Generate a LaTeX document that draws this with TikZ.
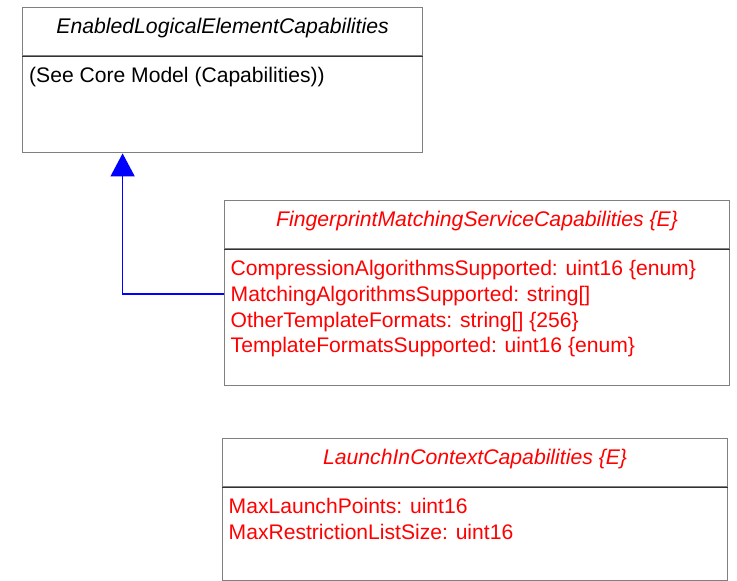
\documentclass[tikz,border=0pt]{standalone}
\usepackage{fontspec}
\setmainfont{Liberation Sans}
\usepackage{tikz}
\usetikzlibrary{arrows.meta,positioning}
\definecolor{BoxBorder}{RGB}{128,128,128}
\definecolor{BoxSep}{RGB}{50,50,50}
\definecolor{ClassRed}{RGB}{255,0,0}
\definecolor{InheritBlue}{RGB}{0,0,255}

\begin{document}
\begin{tikzpicture}[x=1pt, y=-1pt,
    head/.style={draw=BoxBorder, line width=1.2pt, minimum height=48pt, inner sep=0pt,
                 anchor=north west},
    body/.style={draw=BoxBorder, line width=1.2pt, inner sep=0pt},
    sep/.style={draw=BoxSep, line width=1.2pt},
    title/.style={anchor=base, inner sep=0pt, font=\fontsize{21.2}{25.6}\selectfont\itshape},
    attrs/.style={anchor=north west, inner sep=0pt, align=left,
                  font=\fontsize{21.1}{25.6}\selectfont},
    inherit/.style={-{Triangle[length=23pt, width=24pt]}, draw=InheritBlue, line width=1.6pt},
    node distance=0pt
]
    \useasboundingbox (0,0) rectangle (737,581);

    % parent class
    \node[head, minimum width=400pt] (elehead) at (22,7) {};
    \node[body, minimum width=400pt, minimum height=96pt, below=of elehead] (elebody) {};
    \draw[sep] (elehead.south west) -- (elehead.south east);
    \node[title] (eletitle) at ([yshift=-26.2pt]elehead.north) {EnabledLogicalElementCapabilities};
    \node[attrs] (eleattr) at ([xshift=7pt, yshift=-11.2pt]elebody.north west)
        {(See Core Model (Capabilities))};

    % fingerprint matching
    \node[head, minimum width=505pt] (fphead) at (224,200) {};
    \node[body, minimum width=505pt, minimum height=136pt, below=of fphead] (fpbody) {};
    \draw[sep] (fphead.south west) -- (fphead.south east);
    \node[title, text=ClassRed] (fptitle) at ([yshift=-26.2pt]fphead.north)
        {FingerprintMatchingServiceCapabilities \{E\}};
    \node[attrs, text=ClassRed] (fpattr) at ([xshift=6.5pt, yshift=-11.2pt]fpbody.north west)
        {CompressionAlgorithmsSupported: uint16 \{enum\}\\
         MatchingAlgorithmsSupported: string[]\\
         OtherTemplateFormats: string[] \{256\}\\
         TemplateFormatsSupported: uint16 \{enum\}};

    % launch in context
    \node[head, minimum width=505pt] (lchead) at (222,438) {};
    \node[body, minimum width=505pt, minimum height=93pt, below=of lchead] (lcbody) {};
    \draw[sep] (lchead.south west) -- (lchead.south east);
    \node[title, text=ClassRed] (lctitle) at ([yshift=-26.2pt]lchead.north)
        {LaunchInContextCapabilities \{E\}};
    \node[attrs, text=ClassRed] (lcattr) at ([xshift=6.5pt, yshift=-11.2pt]lcbody.north west)
        {MaxLaunchPoints: uint16\\
         MaxRestrictionListSize: uint16};

    \draw[inherit] ([yshift=24pt]fpbody.west) -| ([xshift=-100pt]elebody.south);
\end{tikzpicture}
\end{document}
